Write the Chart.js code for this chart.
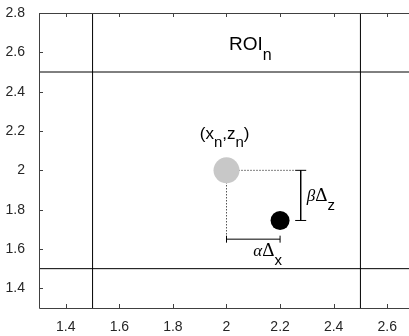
<!DOCTYPE html>
<html>
<head>
<meta charset="utf-8">
<script src="https://cdn.jsdelivr.net/npm/chart.js@4.4.0/dist/chart.umd.min.js"></script>
<style>
body{margin:0;overflow:hidden;background:#fff}
canvas{display:block}
</style>
</head>
<body>
<canvas id="c" width="427" height="336"></canvas>
<script>
// axis ranges and ticks
const xRange = [1.3, 2.7];
const yRange = [1.3, 2.8];
const xTicks = [1.4, 1.6, 1.8, 2, 2.2, 2.4, 2.6];
const yTicks = [1.4, 1.6, 1.8, 2, 2.2, 2.4, 2.6, 2.8];

// ROI boundaries (same for x and z)
const roiEdges = [1.5, 2.5];

// points
const origPt = [2, 2];        // (x_n, z_n)
const movedPt = [2.2, 1.745];

// dotted guides and brackets
const dotEndX = 2.258;
const dotEndY = 1.65;
const bracketX = 2.277;

const axisColor = '#404040';
const sans = '"Liberation Sans", Arial, sans-serif';
const serif = '"Liberation Serif", "DejaVu Serif", serif';

function seg(a, b) { return [{x: a[0], y: a[1]}, {x: b[0], y: b[1]}]; }

const datasets = [
	{ data: [{x: movedPt[0], y: movedPt[1]}], pointRadius: 9.5, backgroundColor: '#000', borderWidth: 0, showLine: false },
	{ data: [{x: origPt[0], y: origPt[1]}], pointRadius: 13, backgroundColor: '#c8c8c8', borderWidth: 0, showLine: false },
	// dotted guides
	{ data: seg(origPt, [dotEndX, origPt[1]]), showLine: true, borderColor: '#000', borderWidth: 1, borderDash: [1, 2], pointRadius: 0 },
	{ data: seg(origPt, [origPt[0], dotEndY]), showLine: true, borderColor: '#000', borderWidth: 1, borderDash: [1, 2], pointRadius: 0 },
	// brackets, caps made with 'line' point style
	{ data: seg([origPt[0], dotEndY], [movedPt[0], dotEndY]), showLine: true, borderColor: '#000', borderWidth: 1,
	  pointStyle: 'line', pointRadius: 3.5, rotation: 90, pointBorderColor: '#000', pointBorderWidth: 1 },
	{ data: seg([bracketX, origPt[1]], [bracketX, movedPt[1]]), showLine: true, borderColor: '#000', borderWidth: 1,
	  pointStyle: 'line', pointRadius: 5.5, rotation: 0, pointBorderColor: '#000', pointBorderWidth: 1 }
];
roiEdges.forEach(function (v) {
	datasets.push({ data: seg([v, yRange[0]], [v, yRange[1]]), showLine: true, borderColor: '#000', borderWidth: 1, pointRadius: 0 });
	datasets.push({ data: seg([xRange[0], v], [xRange[1], v]), showLine: true, borderColor: '#000', borderWidth: 1, pointRadius: 0 });
});

// text notes: anchor in data units, runs of [text, font, baseline shift]
const notes = [
	{ x: 2.009, y: 2.614, runs: [['ROI', '19px ' + sans, 0], ['n', '16px ' + sans, 10]] },
	{ x: 1.9, y: 2.161, runs: [['(x', '17px ' + sans, 0], ['n', '15px ' + sans, 8], [',z', '17px ' + sans, 0], ['n', '15px ' + sans, 8], [')', '17px ' + sans, 0]] },
	{ x: 2.3, y: 1.845, runs: [['\u03b2', 'italic 17px ' + serif, 0], ['\u0394', '19px ' + serif, 0], ['z', '15px ' + sans, 9]] },
	{ x: 2.1, y: 1.563, runs: [['\u03b1', 'italic 17px ' + serif, 0], ['\u0394', '19px ' + serif, 0], ['x', '15px ' + sans, 9]] }
];

const framePlugin = {
	id: 'frame',
	afterDatasetsDraw: function (chart) {
		const ctx = chart.ctx, a = chart.chartArea;
		const xs = chart.scales.x, ys = chart.scales.y;
		ctx.save();
		ctx.strokeStyle = axisColor;
		ctx.lineWidth = 1;
		ctx.beginPath();
		ctx.rect(Math.round(a.left) + 0.5, Math.round(a.top) + 0.5, Math.round(a.right - a.left), Math.round(a.bottom - a.top));
		xTicks.forEach(function (v) {
			const px = Math.round(xs.getPixelForValue(v)) + 0.5;
			ctx.moveTo(px, a.bottom); ctx.lineTo(px, a.bottom - 4);
			ctx.moveTo(px, a.top); ctx.lineTo(px, a.top + 4);
		});
		yTicks.forEach(function (v) {
			const py = Math.round(ys.getPixelForValue(v)) + 0.5;
			ctx.moveTo(a.left, py); ctx.lineTo(a.left + 4, py);
			ctx.moveTo(a.right, py); ctx.lineTo(a.right - 4, py);
		});
		ctx.stroke();

		ctx.fillStyle = '#000';
		ctx.textBaseline = 'alphabetic';
		ctx.textAlign = 'left';
		notes.forEach(function (n) {
			let px = xs.getPixelForValue(n.x);
			const py = ys.getPixelForValue(n.y);
			n.runs.forEach(function (r) {
				ctx.font = r[1];
				ctx.fillText(r[0], px, py + r[2]);
				px += ctx.measureText(r[0]).width;
			});
		});
		ctx.restore();
	}
};

new Chart(document.getElementById('c'), {
	type: 'scatter',
	data: { datasets: datasets },
	options: {
		responsive: false,
		animation: false,
		layout: { padding: { left: 0, right: 6, top: 11, bottom: 0 } },
		plugins: { legend: { display: false }, tooltip: { enabled: false } },
		scales: {
			x: {
				type: 'linear', min: xRange[0], max: xRange[1],
				afterBuildTicks: function (s) { s.ticks = xTicks.map(function (v) { return {value: v}; }); },
				afterFit: function (s) { s.height = 28; s.paddingLeft = 0; s.paddingRight = 0; },
				grid: { display: false }, border: { display: false },
				ticks: { color: '#262626', font: { family: sans, size: 14 }, padding: 3, maxRotation: 0, autoSkip: false,
					callback: function (v) { return String(v); } }
			},
			y: {
				type: 'linear', min: yRange[0], max: yRange[1],
				afterBuildTicks: function (s) { s.ticks = yTicks.map(function (v) { return {value: v}; }); },
				afterFit: function (s) { s.width = 39; s.paddingTop = 0; s.paddingBottom = 0; },
				grid: { display: false }, border: { display: false },
				ticks: { color: '#262626', font: { family: sans, size: 14 }, padding: 6, autoSkip: false,
					callback: function (v) { return String(v); } }
			}
		}
	},
	plugins: [framePlugin]
});
</script>
</body>
</html>
